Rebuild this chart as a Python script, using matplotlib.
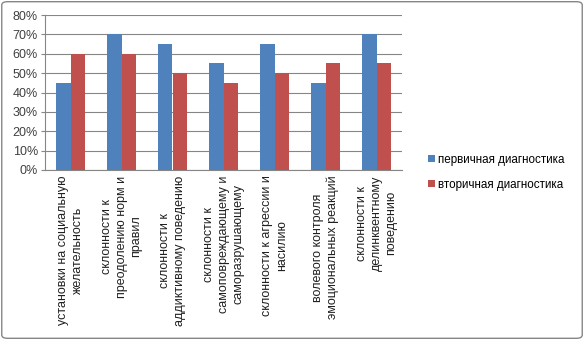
import matplotlib
matplotlib.use('Agg')
import matplotlib.pyplot as plt
import numpy as np
from matplotlib.patches import FancyBboxPatch

categories = [
    'установки на социальную\nжелательность',
    'склонности к\nпреодолению норм и\nправил',
    'склонности к\nаддиктивному поведению',
    'склонности к\nсамоповреждающему и\nсаморазрушающему',
    'склонности к агрессии и\nнасилию',
    'волевого контроля\nэмоциональных реакций',
    'склонности к\nделинквентному\nповедению',
]
primary = [45, 70, 65, 55, 65, 45, 70]
secondary = [60, 60, 50, 45, 50, 55, 55]
series_names = ['первичная диагностика', 'вторичная диагностика']
y_ticks = [0, 10, 20, 30, 40, 50, 60, 70, 80]

plt.rcParams['font.family'] = ['Liberation Sans', 'DejaVu Sans']

fig = plt.figure(figsize=(5.84, 3.40), dpi=100)
ax = fig.add_axes([45 / 584, 1 - 170 / 340, 357 / 584, 155 / 340])

x = np.arange(len(categories))
w = 0.29
ax.bar(x - w / 2, primary, w, color='#4F81BD', label=series_names[0], zorder=3)
ax.bar(x + w / 2, secondary, w, color='#C0504D', label=series_names[1], zorder=3)

ax.set_xlim(-0.5, len(categories) - 0.5)
ax.set_ylim(0, 80)
ax.set_yticks(y_ticks)
ax.set_yticklabels([f'{v}%' for v in y_ticks], fontsize=9, color='#404040')
ax.yaxis.grid(True, color='#868686', linewidth=0.8, zorder=0)
ax.tick_params(axis='y', length=3, color='#868686', pad=2)
ax.tick_params(axis='x', length=0, pad=4)
ax.set_xticks(x)
ax.set_xticklabels(categories, rotation=90, fontsize=9, ha='center', va='top',
                   multialignment='center', color='#202020', linespacing=1.3)
for s in ['top', 'right']:
    ax.spines[s].set_visible(False)
ax.spines['left'].set_color('#868686')
ax.spines['bottom'].set_color('#868686')

fig.legend(loc='upper left', bbox_to_anchor=(422 / 584, 1 - 148 / 340), frameon=False,
           fontsize=8.4, handlelength=0.6, handleheight=0.6, handletextpad=0.3,
           labelspacing=1.1, borderpad=0)

border = FancyBboxPatch((0.003, 0.005), 0.994, 0.99, boxstyle='round,pad=0,rounding_size=0.01',
                        transform=fig.transFigure, fill=False, edgecolor='#868686', linewidth=1)
fig.patches.append(border)

fig.savefig('out.png', dpi=100)
